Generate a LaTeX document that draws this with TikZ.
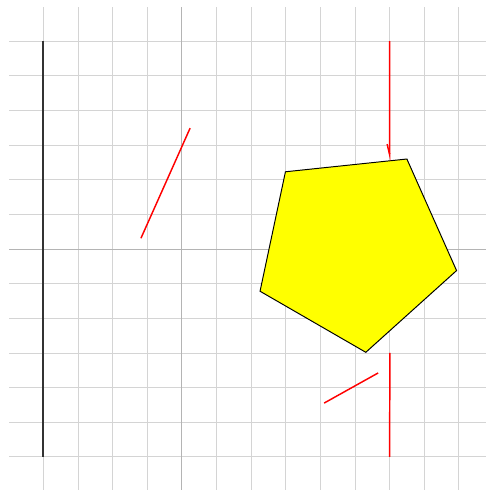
\documentclass[tikz,border=0pt]{standalone}
\usepackage{xcolor}
\usepackage{tikz}
\usetikzlibrary{arrows.meta}
\definecolor{crojo}{HTML}{FF0000}
\definecolor{camarillo}{HTML}{FFFF00}
\definecolor{cgris}{HTML}{D4D4D4}
\definecolor{cgrisosc}{HTML}{B4B4B4}
\definecolor{cnegro}{HTML}{333333}
\tikzset{
  rejilla/.style={draw=cgris, line width=0.6pt},
  eje/.style={draw=cgrisosc, line width=0.7pt},
  barra/.style={draw=cnegro, line width=1.6pt},
  linea/.style={draw=crojo, line width=1.2pt},
  flecha/.style={linea, -{Straight Barb[right,length=3mm,width=1.4mm]}},
  pentagono/.style={draw=black, fill=camarillo, line width=0.8pt},
}
\begin{document}
\begin{tikzpicture}
  \useasboundingbox (-5.25,-6.96) rectangle (8.78,7.19);
  \clip (-5.25,-6.96) rectangle (8.78,7.19);
  % rejilla y ejes
  \draw[rejilla] (-4.99,-7.5) grid (9.5,6.99);
  \draw[eje] (-4.99,0) -- (9.5,0);
  \draw[eje] (0,-7.5) -- (0,6.99);
  % barra negra
  \coordinate (barraA) at (-4,6);
  \coordinate (barraB) at (-4,-6);
  \draw[barra] (barraA) -- (barraB);
  % pentagono
  \foreach \i in {0,...,4}
    \coordinate (p\i) at ([shift={(5,0)}] 60+72*\i:3);
  \draw[pentagono] (p0) -- (p1) -- (p2) -- (p3) -- (p4) -- cycle;
  % lineas rojas
  \coordinate (arr) at (6,6);
  \coordinate (abj) at (6,-6);
  \coordinate (bajo) at (6.01,-3);
  \coordinate (corte) at (intersection of p0--p1 and arr--abj);
  \draw[flecha] (arr) -- (corte);
  \draw[linea] (bajo) -- (abj);
  \coordinate (r1a) at (-1.18,0.31);
  \coordinate (r1b) at (0.24,3.49);
  \draw[linea] (r1a) -- (r1b);
  \coordinate (r2a) at (4.11,-4.45);
  \coordinate (r2b) at (5.67,-3.58);
  \draw[linea] (r2a) -- (r2b);
\end{tikzpicture}
\end{document}
